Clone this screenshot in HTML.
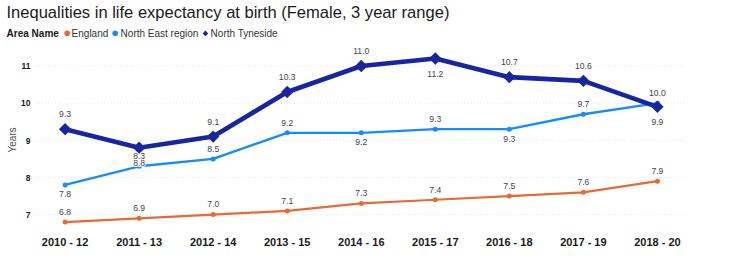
<!DOCTYPE html>
<html><head><meta charset="utf-8"><style>
html,body{margin:0;padding:0;background:#fff;width:732px;height:256px;overflow:hidden}
svg{display:block;font-family:"Liberation Sans",sans-serif}
.title{font-size:16.5px;fill:#1a1a1a}
.leg{font-size:10px;fill:#333}
.legb{font-size:10px;font-weight:bold;fill:#1a1a1a}
.yl{font-size:9.4px;font-weight:bold;fill:#1a1a1a}
.xl{font-size:11px;font-weight:bold;fill:#1a1a1a}
.yt{font-size:10px;fill:#4d4d4d}
.dl{font-size:9.9px;fill:#444;stroke:#fff;stroke-width:2px;paint-order:stroke;stroke-linejoin:round}
</style></head><body>
<svg width="732" height="256" viewBox="0 0 732 256">
<text x="6.5" y="18.1" class="title" style="font-size:16.55px">Inequalities in life expectancy at birth (Female, 3 year range)</text>
<text x="6.6" y="36.9" class="legb">Area Name</text>
<circle cx="67.2" cy="33.2" r="2.8" fill="#e76a34"/>
<text x="71.6" y="36.9" class="leg">England</text>
<circle cx="115.2" cy="33.2" r="2.8" fill="#138cff"/>
<text x="120.6" y="36.9" class="leg">North East region</text>
<polygon points="205.4,30.6 208.2,33.4 205.4,36.2 202.6,33.4" fill="#1726a0"/>
<text x="210.6" y="36.9" class="leg">North Tyneside</text>
<line x1="35.4" y1="66.00" x2="685" y2="66.00" stroke="#e0e0e0" stroke-width="1" stroke-dasharray="1,2.2732"/>
<text transform="translate(30.4,69.30) scale(0.9,1)" text-anchor="end" class="yl">11</text>
<line x1="35.4" y1="103.15" x2="685" y2="103.15" stroke="#e0e0e0" stroke-width="1" stroke-dasharray="1,2.2732"/>
<text transform="translate(30.4,106.45) scale(0.9,1)" text-anchor="end" class="yl">10</text>
<line x1="35.4" y1="140.30" x2="685" y2="140.30" stroke="#e0e0e0" stroke-width="1" stroke-dasharray="1,2.2732"/>
<text transform="translate(30.4,143.60) scale(0.9,1)" text-anchor="end" class="yl">9</text>
<line x1="35.4" y1="177.45" x2="685" y2="177.45" stroke="#e0e0e0" stroke-width="1" stroke-dasharray="1,2.2732"/>
<text transform="translate(30.4,180.75) scale(0.9,1)" text-anchor="end" class="yl">8</text>
<line x1="35.4" y1="214.60" x2="685" y2="214.60" stroke="#e0e0e0" stroke-width="1" stroke-dasharray="1,2.2732"/>
<text transform="translate(30.4,217.90) scale(0.9,1)" text-anchor="end" class="yl">7</text>
<text x="65.10" y="246" text-anchor="middle" class="xl">2010 - 12</text>
<text x="139.14" y="246" text-anchor="middle" class="xl">2011 - 13</text>
<text x="213.18" y="246" text-anchor="middle" class="xl">2012 - 14</text>
<text x="287.22" y="246" text-anchor="middle" class="xl">2013 - 15</text>
<text x="361.26" y="246" text-anchor="middle" class="xl">2014 - 16</text>
<text x="435.30" y="246" text-anchor="middle" class="xl">2015 - 17</text>
<text x="509.34" y="246" text-anchor="middle" class="xl">2016 - 18</text>
<text x="583.38" y="246" text-anchor="middle" class="xl">2017 - 19</text>
<text x="657.42" y="246" text-anchor="middle" class="xl">2018 - 20</text>
<text transform="translate(15.5,140) rotate(-90)" text-anchor="middle" class="yt">Years</text>
<polyline points="65.10,222.03 139.14,218.31 213.18,214.60 287.22,210.89 361.26,203.46 435.30,199.74 509.34,196.03 583.38,192.31 657.42,181.16" fill="none" stroke="#e76a34" stroke-width="2.2" stroke-linejoin="round"/>
<circle cx="65.10" cy="222.03" r="2.5" fill="#e76a34"/>
<circle cx="139.14" cy="218.31" r="2.5" fill="#e76a34"/>
<circle cx="213.18" cy="214.60" r="2.5" fill="#e76a34"/>
<circle cx="287.22" cy="210.89" r="2.5" fill="#e76a34"/>
<circle cx="361.26" cy="203.46" r="2.5" fill="#e76a34"/>
<circle cx="435.30" cy="199.74" r="2.5" fill="#e76a34"/>
<circle cx="509.34" cy="196.03" r="2.5" fill="#e76a34"/>
<circle cx="583.38" cy="192.31" r="2.5" fill="#e76a34"/>
<circle cx="657.42" cy="181.16" r="2.5" fill="#e76a34"/>
<polyline points="65.10,184.88 139.14,166.30 213.18,158.88 287.22,132.87 361.26,132.87 435.30,129.15 509.34,129.15 583.38,114.30 657.42,103.15" fill="none" stroke="#138cff" stroke-width="2.4" stroke-linejoin="round"/>
<circle cx="65.10" cy="184.88" r="2.5" fill="#138cff"/>
<circle cx="139.14" cy="166.30" r="2.5" fill="#138cff"/>
<circle cx="213.18" cy="158.88" r="2.5" fill="#138cff"/>
<circle cx="287.22" cy="132.87" r="2.5" fill="#138cff"/>
<circle cx="361.26" cy="132.87" r="2.5" fill="#138cff"/>
<circle cx="435.30" cy="129.15" r="2.5" fill="#138cff"/>
<circle cx="509.34" cy="129.15" r="2.5" fill="#138cff"/>
<circle cx="583.38" cy="114.30" r="2.5" fill="#138cff"/>
<circle cx="657.42" cy="103.15" r="2.5" fill="#138cff"/>
<polyline points="65.10,129.15 139.14,147.73 213.18,136.59 287.22,92.00 361.26,66.00 435.30,58.57 509.34,77.15 583.38,80.86 657.42,106.86" fill="none" stroke="#1726a0" stroke-width="4.6" stroke-linejoin="round"/>
<polygon points="65.10,122.95 71.30,129.15 65.10,135.35 58.90,129.15" fill="#1726a0"/>
<polygon points="139.14,141.53 145.34,147.73 139.14,153.93 132.94,147.73" fill="#1726a0"/>
<polygon points="213.18,130.39 219.38,136.59 213.18,142.78 206.98,136.59" fill="#1726a0"/>
<polygon points="287.22,85.80 293.42,92.00 287.22,98.20 281.02,92.00" fill="#1726a0"/>
<polygon points="361.26,59.80 367.46,66.00 361.26,72.20 355.06,66.00" fill="#1726a0"/>
<polygon points="435.30,52.37 441.50,58.57 435.30,64.77 429.10,58.57" fill="#1726a0"/>
<polygon points="509.34,70.95 515.54,77.15 509.34,83.35 503.14,77.15" fill="#1726a0"/>
<polygon points="583.38,74.66 589.58,80.86 583.38,87.06 577.18,80.86" fill="#1726a0"/>
<polygon points="657.42,100.66 663.62,106.86 657.42,113.06 651.22,106.86" fill="#1726a0"/>
<text transform="translate(65.10,214.83) scale(0.87,1)" text-anchor="middle" class="dl">6.8</text>
<text transform="translate(139.14,211.11) scale(0.87,1)" text-anchor="middle" class="dl">6.9</text>
<text transform="translate(213.18,207.40) scale(0.87,1)" text-anchor="middle" class="dl">7.0</text>
<text transform="translate(287.22,203.69) scale(0.87,1)" text-anchor="middle" class="dl">7.1</text>
<text transform="translate(361.26,196.26) scale(0.87,1)" text-anchor="middle" class="dl">7.3</text>
<text transform="translate(435.30,192.54) scale(0.87,1)" text-anchor="middle" class="dl">7.4</text>
<text transform="translate(509.34,188.83) scale(0.87,1)" text-anchor="middle" class="dl">7.5</text>
<text transform="translate(583.38,185.11) scale(0.87,1)" text-anchor="middle" class="dl">7.6</text>
<text transform="translate(657.42,173.96) scale(0.87,1)" text-anchor="middle" class="dl">7.9</text>
<text transform="translate(65.10,197.48) scale(0.87,1)" text-anchor="middle" class="dl">7.8</text>
<text transform="translate(139.14,159.10) scale(0.87,1)" text-anchor="middle" class="dl">8.3</text>
<text transform="translate(213.18,151.68) scale(0.87,1)" text-anchor="middle" class="dl">8.5</text>
<text transform="translate(287.22,125.67) scale(0.87,1)" text-anchor="middle" class="dl">9.2</text>
<text transform="translate(361.26,145.47) scale(0.87,1)" text-anchor="middle" class="dl">9.2</text>
<text transform="translate(435.30,121.95) scale(0.87,1)" text-anchor="middle" class="dl">9.3</text>
<text transform="translate(509.34,141.75) scale(0.87,1)" text-anchor="middle" class="dl">9.3</text>
<text transform="translate(583.38,107.10) scale(0.87,1)" text-anchor="middle" class="dl">9.7</text>
<text transform="translate(657.42,95.95) scale(0.87,1)" text-anchor="middle" class="dl">10.0</text>
<text transform="translate(65.10,117.15) scale(0.87,1)" text-anchor="middle" class="dl">9.3</text>
<text transform="translate(139.14,166.03) scale(0.87,1)" text-anchor="middle" class="dl">8.8</text>
<text transform="translate(213.18,124.59) scale(0.87,1)" text-anchor="middle" class="dl">9.1</text>
<text transform="translate(287.22,80.00) scale(0.87,1)" text-anchor="middle" class="dl">10.3</text>
<text transform="translate(361.26,54.00) scale(0.87,1)" text-anchor="middle" class="dl">11.0</text>
<text transform="translate(435.30,76.87) scale(0.87,1)" text-anchor="middle" class="dl">11.2</text>
<text transform="translate(509.34,65.15) scale(0.87,1)" text-anchor="middle" class="dl">10.7</text>
<text transform="translate(583.38,68.86) scale(0.87,1)" text-anchor="middle" class="dl">10.6</text>
<text transform="translate(657.42,125.16) scale(0.87,1)" text-anchor="middle" class="dl">9.9</text>
</svg>
</body></html>
